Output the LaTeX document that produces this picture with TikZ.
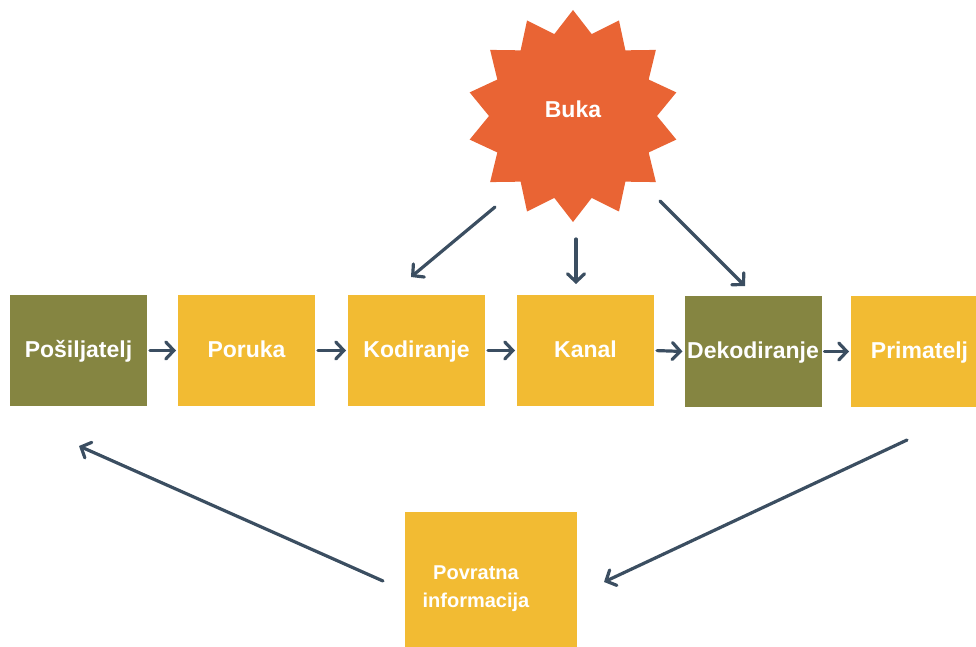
\documentclass[tikz,border=0pt]{standalone}
\usepackage{fontspec}
\setmainfont{Liberation Sans}
\usetikzlibrary{arrows.meta}
\definecolor{olivebox}{HTML}{858541}
\definecolor{yellowbox}{HTML}{F2BB33}
\definecolor{noise}{HTML}{E96434}
\definecolor{arrowc}{HTML}{3B4E61}
\tikzset{
  box/.style={rectangle, minimum width=137pt, minimum height=111pt, inner sep=0pt, outer sep=0pt,
    text=white, font=\bfseries\fontsize{23}{27}\selectfont, text height=18pt, text depth=4pt},
  ybox/.style={box, fill=yellowbox},
  obox/.style={box, fill=olivebox},
  txt/.style={text=white, font=\bfseries\fontsize{23}{27}\selectfont, inner sep=0pt},
  flow/.style={draw=arrowc, line width=3.2pt, line cap=round,
    -{Straight Barb[length=8pt,width=17pt,line cap=round]}},
}
\begin{document}
\begin{tikzpicture}[x=1pt,y=-1pt]
\useasboundingbox (0,0) rectangle (976,647);
% noise star
\coordinate (buka) at (573,116);
\fill[noise] ([shift={(90:106)}]buka)
  \foreach \k in {0,...,13}{ -- ([shift={(90+\k*360/14+360/28:84)}]buka) -- ([shift={(90+\k*360/14+360/14:106)}]buka)} -- cycle;
\node[txt] (bukatext) at (573,109) {Buka};
% boxes
\node[obox] (pos) at (78.5,350.5) {Pošiljatelj};
\node[ybox] (por) at (246.5,350.5) {Poruka};
\node[ybox] (kod) at (416.5,350.5) {Kodiranje};
\node[ybox] (kan) at (585.5,350.5) {Kanal};
\node[obox] (dek) at (753,351.5) {Dekodiranje};
\node[ybox] (pri) at (919.5,351.5) {Primatelj};
\node[ybox, minimum width=172pt, minimum height=155pt] (pov) at (491,589.5) {};
\node[txt, font=\bfseries\fontsize{20}{28}\selectfont, align=center] (povtext) at (476,589) {Povratna\\informacija};
% horizontal flow
\draw[flow, shorten <=3pt, shorten >=2pt] (pos.east) -- (por.west);
\draw[flow, shorten <=3pt, shorten >=2pt] (por.east) -- (kod.west);
\draw[flow, shorten <=3pt, shorten >=2pt] (kod.east) -- (kan.west);
\draw[flow, shorten <=3pt, shorten >=2pt] (kan.east) -- (dek.west);
\draw[flow, shorten <=3pt, shorten >=2pt] (dek.east) -- (pri.west);
% noise arrows
\coordinate (n1s) at (495,207);
\coordinate (n1e) at (411,277);
\coordinate (n2s) at (576,239);
\coordinate (n2e) at (576,284);
\coordinate (n3s) at (660,201);
\coordinate (n3e) at (745,286);
\draw[flow] (n1s) -- (n1e);
\draw[flow] (n2s) -- (n2e);
\draw[flow] (n3s) -- (n3e);
% feedback arrows
\coordinate (f1s) at (907,440);
\coordinate (f1e) at (604,582);
\coordinate (f2s) at (383,581);
\coordinate (f2e) at (79,446);
\draw[flow] (f1s) -- (f1e);
\draw[flow] (f2s) -- (f2e);
\end{tikzpicture}
\end{document}
